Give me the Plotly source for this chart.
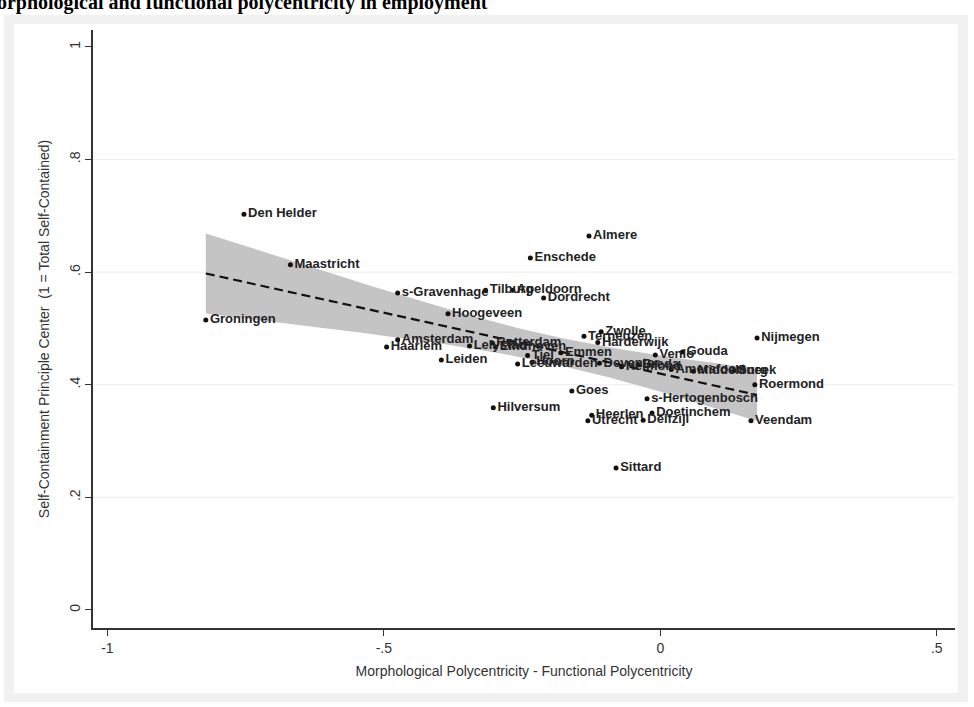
import numpy as np
import plotly.graph_objects as go

# ---- data ----
cities = ["Den Helder", "Maastricht", "Groningen", "s-Gravenhage", "Tilburg", "Apeldoorn",
          "Dordrecht", "Enschede", "Almere", "Hoogeveen", "Amsterdam", "Haarlem", "Leiden",
          "Lelystad", "Rotterdam", "Eindhoven", "Leeuwarden", "Hoorn", "Tiel", "Emmen",
          "Deventer", "Breda", "Amersfoort", "Sneek", "Terneuzen", "Zwolle", "Harderwijk",
          "Venlo", "Gouda", "Nijmegen", "Roermond", "Veendam", "s-Hertogenbosch", "Goes",
          "Hilversum", "Sittard", "Heerlen", "Utrecht", "Doetinchem", "Delfzijl",
          "Middelburg", "Helmond"]
x_diff = [-0.753, -0.669, -0.822, -0.475, -0.316, -0.267,
          -0.211, -0.235, -0.129, -0.384, -0.475, -0.495, -0.396,
          -0.345, -0.304, -0.298, -0.258, -0.232, -0.240, -0.180,
          -0.110, -0.040, 0.020, 0.133, -0.138, -0.107, -0.113,
          -0.009, 0.040, 0.175, 0.171, 0.164, -0.024, -0.160,
          -0.302, -0.080, -0.124, -0.131, -0.015, -0.031,
          0.060, -0.070]
self_cont = [0.703, 0.613, 0.515, 0.563, 0.568, 0.568,
             0.554, 0.625, 0.664, 0.526, 0.480, 0.467, 0.444,
             0.469, 0.474, 0.467, 0.437, 0.440, 0.452, 0.457,
             0.438, 0.436, 0.427, 0.425, 0.486, 0.494, 0.475,
             0.453, 0.458, 0.483, 0.400, 0.336, 0.375, 0.389,
             0.359, 0.252, 0.346, 0.336, 0.350, 0.337,
             0.424, 0.432]

x_ticks = [-1, -0.5, 0, 0.5]
x_ticklabels = ["-1", "-.5", "0", ".5"]
y_ticks = [0, 0.2, 0.4, 0.6, 0.8, 1]
y_ticklabels = ["0", ".2", ".4", ".6", ".8", "1"]

title_text = "Morphological and functional polycentricity in employment"
x_title = "Morphological Polycentricity - Functional Polycentricity"
y_title = "Self-Containment Principle Center  (1 = Total Self-Contained)"

# ---- linear fit with 95% CI (computed from the data) ----
xa = np.array(x_diff)
ya = np.array(self_cont)
n = len(xa)
xbar = xa.mean()
sxx = ((xa - xbar) ** 2).sum()
b1 = ((xa - xbar) * (ya - ya.mean())).sum() / sxx
b0 = ya.mean() - b1 * xbar
resid = ya - (b0 + b1 * xa)
s = np.sqrt((resid ** 2).sum() / (n - 2))
t_crit = 2.021
xg = np.linspace(xa.min(), xa.max(), 100)
yfit = b0 + b1 * xg
se = s * np.sqrt(1.0 / n + (xg - xbar) ** 2 / sxx)
lo = yfit - t_crit * se
hi = yfit + t_crit * se

font = "Liberation Sans, Arial, sans-serif"

fig = go.Figure()
fig.add_trace(go.Scatter(x=np.concatenate([xg, xg[::-1]]), y=np.concatenate([hi, lo[::-1]]),
                         fill="toself", fillcolor="#c4c4c4", line=dict(width=0),
                         mode="lines", hoverinfo="skip", showlegend=False))
fig.add_trace(go.Scatter(x=xg, y=yfit, mode="lines",
                         line=dict(color="#111111", width=2.2, dash="9px,5px"),
                         showlegend=False))
fig.add_trace(go.Scatter(x=x_diff, y=self_cont, mode="markers+text", text=cities,
                         textposition="middle right",
                         textfont=dict(family=font, size=13, color="#222222", weight="bold"),
                         marker=dict(color="#111111", size=5),
                         showlegend=False))

# px -> paper helpers for the frame (plot area: x 93..955, y 30..628)
def px_x(p):
    return (p - 93) / 862

def px_y(p):
    return (628 - p) / 598

shapes = [
    dict(type="rect", xref="paper", yref="paper", x0=px_x(4), x1=px_x(968),
         y0=px_y(702), y1=px_y(15), fillcolor="#f1f1f1", line=dict(width=0), layer="below"),
    dict(type="rect", xref="paper", yref="paper", x0=px_x(14), x1=px_x(958),
         y0=px_y(693), y1=px_y(24), fillcolor="white", line=dict(width=0), layer="below"),
]
for v in y_ticks[1:-1]:
    shapes.append(dict(type="line", xref="paper", yref="y", x0=0, x1=1, y0=v, y1=v,
                       line=dict(color="#ececec", width=1), layer="below"))

fig.update_layout(
    width=974, height=707,
    margin=dict(l=93, r=19, t=30, b=79, autoexpand=False),
    paper_bgcolor="white", plot_bgcolor="rgba(0,0,0,0)",
    shapes=shapes,
    font=dict(family=font, color="#333333"),
    annotations=[dict(text="<b>" + title_text + "</b>", xref="paper", yref="paper",
                      x=px_x(490), y=px_y(16), xanchor="right", yanchor="bottom",
                      showarrow=False,
                      font=dict(family="Liberation Serif, Times New Roman, serif", size=20,
                                color="black"))],
)
fig.update_xaxes(range=[-1.026, 0.533], tickvals=x_ticks, ticktext=x_ticklabels,
                 showgrid=False, zeroline=False, showline=True, linecolor="#333333",
                 linewidth=1.5, ticks="outside", ticklen=6, tickcolor="#333333",
                 automargin=False,
                 tickfont=dict(size=14, color="#333333"),
                 title=dict(text=x_title, font=dict(size=14, color="#333333"), standoff=12))
fig.update_yaxes(range=[-0.032, 1.030], tickvals=y_ticks, ticktext=y_ticklabels,
                 showgrid=False, zeroline=False, showline=True, linecolor="#333333",
                 linewidth=1.5, ticks="outside", ticklen=6, tickcolor="#333333",
                 automargin=False,
                 tickangle=-90, tickfont=dict(size=14, color="#333333"),
                 title=dict(text=y_title, font=dict(size=14, color="#333333"), standoff=14))

fig.write_html("out.html", config={"displayModeBar": False},
               post_script="document.body.style.margin='0';document.body.style.overflow='hidden';")
